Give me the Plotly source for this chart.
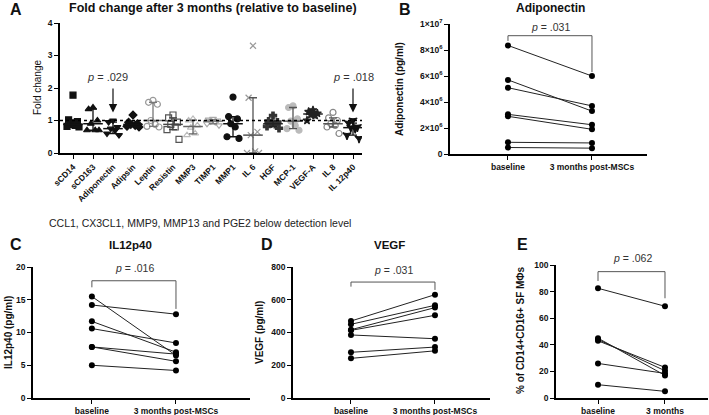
import numpy as np
import plotly.graph_objects as go

# ---------------- data ----------------
fold_categories = ["sCD14", "sCD163", "Adiponectin", "Adipsin", "Leptin", "Resistin", "MMP3",
                   "TIMP1", "MMP1", "IL 6", "HGF", "MCP-1", "VEGF-A", "IL 8", "IL 12p40"]
fold_sCD14 = [1.78, 1.02, 0.97, 0.88, 0.85, 0.82, 0.80]
fold_sCD163 = [1.40, 1.35, 1.00, 0.90, 0.70, 0.70, 0.70]
fold_adiponectin = [1.00, 0.95, 0.80, 0.75, 0.70, 0.60, 0.55]
fold_adipsin = [1.17, 0.95, 0.90, 0.88, 0.85, 0.82, 0.80]
fold_leptin = [1.62, 1.56, 1.50, 1.00, 0.88, 0.82, 0.80]
fold_resistin = [1.17, 1.08, 0.95, 0.88, 0.80, 0.72, 0.42]
fold_mmp3 = [1.05, 1.00, 0.85, 0.78, 0.60, 0.55]
fold_timp1 = [1.05, 1.03, 1.00, 0.98, 0.95, 0.90, 0.85]
fold_mmp1 = [1.72, 1.12, 1.05, 0.90, 0.80, 0.50, 0.45]
fold_il6 = [3.30, 1.70, 0.65, 0.55, 0.05, 0.00, 0.00]
fold_hgf = [1.15, 0.98, 0.95, 0.90, 0.88, 0.82, 0.76]
fold_mcp1 = [1.45, 1.40, 1.05, 0.98, 0.85, 0.75, 0.70]
fold_vegfa = [1.32, 1.27, 1.22, 1.18, 1.15, 1.00]
fold_il8 = [1.25, 1.08, 1.00, 0.90, 0.85, 0.80, 0.60]
fold_il12p40 = [1.00, 0.92, 0.80, 0.78, 0.75, 0.55, 0.45]
fold_values = [fold_sCD14, fold_sCD163, fold_adiponectin, fold_adipsin, fold_leptin, fold_resistin,
               fold_mmp3, fold_timp1, fold_mmp1, fold_il6, fold_hgf, fold_mcp1, fold_vegfa,
               fold_il8, fold_il12p40]

time_labels = ["baseline", "3 months post-MSCs"]
time_labels_e = ["baseline", "3 months"]

adipo_baseline = [8.35e6, 5.70e6, 5.10e6, 3.05e6, 2.90e6, 0.90e6, 0.50e6]
adipo_3m = [6.00e6, 3.30e6, 3.70e6, 2.25e6, 1.90e6, 0.85e6, 0.45e6]
adipo_ticks = [0, 2e6, 4e6, 6e6, 8e6, 1e7]
adipo_ticktext = ["0", "2×10<sup>6</sup>", "4×10<sup>6</sup>", "6×10<sup>6</sup>",
                  "8×10<sup>6</sup>", "1×10<sup>7</sup>"]

il12_baseline = [15.5, 14.2, 11.7, 10.6, 7.8, 7.8, 5.0]
il12_3m = [6.5, 12.8, 7.0, 8.4, 6.7, 5.6, 4.2]

vegf_baseline = [470, 450, 417, 413, 385, 279, 242]
vegf_3m = [631, 566, 552, 505, 362, 311, 288]

cd_baseline = [82.5, 45.0, 44.0, 43.0, 26.0, 10.0]
cd_3m = [69.0, 17.0, 20.5, 23.0, 18.5, 5.0]

# ---------------- styles ----------------
FONT = "Liberation Sans, Arial, sans-serif"
W, H = 709, 415
fold_symbols = ["square", "triangle-up", "triangle-down", "diamond", "circle-open", "square-open",
                "triangle-up-open", "triangle-down-open", "circle", "x-thin-open", "cross",
                "circle", "star", "circle-open", "star-triangle-down"]
fold_colors = ["#111", "#111", "#111", "#111", "#999", "#555", "#bbb", "#aaa", "#111", "#999",
               "#333", "#bbb", "#222", "#888", "#111"]
bar_colors = ["#111", "#111", "#111", "#111", "#777", "#444", "#666", "#777", "#111", "#555",
              "#222", "#555", "#222", "#555", "#111"]
jitter_pattern = [0.0, -0.22, 0.22, -0.11, 0.11, -0.3, 0.3, 0.0]


def px_x(p):
    return p / W


def px_y(p):
    return 1 - p / H


fig = go.Figure()

# ---------------- panel A ----------------
for i, (cat, vals) in enumerate(zip(fold_categories, fold_values)):
    xs = [i + jitter_pattern[k % len(jitter_pattern)] for k in range(len(vals))]
    sym = fold_symbols[i]
    fig.add_trace(go.Scatter(
        x=xs, y=vals, mode="markers", xaxis="x", yaxis="y", showlegend=False,
        marker=dict(symbol=sym, size=6, color=fold_colors[i],
                    line=dict(width=1.2, color=fold_colors[i]))))
    q1, med, q3 = np.percentile(vals, [25, 50, 75], method="weibull")
    fig.add_trace(go.Scatter(
        x=[i], y=[med], mode="markers", xaxis="x", yaxis="y", showlegend=False,
        marker=dict(symbol="line-ew-open", size=14, color=bar_colors[i],
                    line=dict(width=1.5, color=bar_colors[i])),
        error_y=dict(type="data", symmetric=False, array=[q3 - med], arrayminus=[med - q1],
                     color=bar_colors[i], thickness=1.3, width=4)))

n_cat = len(fold_categories)
axis_common = dict(showline=True, linecolor="black", linewidth=1.6, ticks="outside", ticklen=4,
                   tickwidth=1.4, tickcolor="black", showgrid=False, zeroline=False,
                   automargin=False,
                   tickfont=dict(family=FONT, size=8.5, color="#111", weight="bold"))

fig.update_layout(
    xaxis=dict(domain=[px_x(60), px_x(362)], range=[-0.65, n_cat - 0.55], tickmode="array",
               tickvals=list(range(n_cat)), ticktext=fold_categories, tickangle=-45,
               anchor="y", **axis_common),
    yaxis=dict(domain=[px_y(153), px_y(23)], range=[0, 4], tickvals=[0, 1, 2, 3, 4],
               anchor="x", **axis_common),
)
fig.add_shape(type="line", xref="x", yref="y", x0=-0.65, x1=n_cat - 0.55, y0=1, y1=1,
              line=dict(color="black", width=1.3, dash="dot"))


# ---------------- paired panels ----------------
def paired(xa, ya, base, after):
    xs, ys = [], []
    for b, a in zip(base, after):
        xs += [0, 1, None]
        ys += [b, a, None]
    fig.add_trace(go.Scatter(x=xs, y=ys, mode="lines+markers", xaxis=xa, yaxis=ya,
                             showlegend=False, line=dict(color="#222", width=1),
                             marker=dict(symbol="circle", size=6, color="black")))


paired("x2", "y2", adipo_baseline, adipo_3m)
paired("x3", "y3", il12_baseline, il12_3m)
paired("x4", "y4", vegf_baseline, vegf_3m)
paired("x5", "y5", cd_baseline, cd_3m)

small_tick = dict(axis_common)

fig.update_layout(
    xaxis2=dict(domain=[px_x(450), px_x(647)], range=[-0.69, 1.655], tickvals=[0, 1],
                ticktext=time_labels, anchor="y2", **small_tick),
    yaxis2=dict(domain=[px_y(154), px_y(24)], range=[0, 1e7], tickvals=adipo_ticks,
                ticktext=adipo_ticktext, anchor="x2", **small_tick),
    xaxis3=dict(domain=[px_x(33), px_x(250)], range=[-0.70, 1.88], tickvals=[0, 1],
                ticktext=time_labels, anchor="y3", **small_tick),
    yaxis3=dict(domain=[px_y(398), px_y(267)], range=[0, 20], tickvals=[0, 5, 10, 15, 20],
                anchor="x3", **small_tick),
    xaxis4=dict(domain=[px_x(293), px_x(490)], range=[-0.69, 1.655], tickvals=[0, 1],
                ticktext=time_labels, anchor="y4", **small_tick),
    yaxis4=dict(domain=[px_y(398), px_y(267)], range=[0, 800],
                tickvals=[0, 200, 400, 600, 800], anchor="x4", **small_tick),
    xaxis5=dict(domain=[px_x(556), px_x(708)], range=[-0.627, 1.642], tickvals=[0, 1],
                ticktext=time_labels_e, anchor="y5", **small_tick),
    yaxis5=dict(domain=[px_y(398), px_y(265)], range=[0, 100],
                tickvals=[0, 20, 40, 60, 80, 100], anchor="x5", **small_tick),
)

# brackets + p values (text placed in paper pixels to avoid range clipping)
brackets = [("x2", "y2", 8.7e6, 9.1e6, 6.3e6, "<i>p</i> = .031", (550, 27)),
            ("x3", "y3", 16.9, 17.9, 13.6, "<i>p</i> = .016", (134, 268)),
            ("x4", "y4", 680, 708, 660, "<i>p</i> = .031", (393, 270)),
            ("x5", "y5", 88, 95, 75, "<i>p</i> = .062", (632, 258))]
for xa, ya, yl, ytop, yr, txt, (tx, ty) in brackets:
    fig.add_shape(type="path", xref=xa, yref=ya,
                  path=f"M 0,{yl} L 0,{ytop} L 1,{ytop} L 1,{yr}",
                  line=dict(color="#555", width=1))
    fig.add_annotation(x=px_x(tx), y=px_y(ty), xref="paper", yref="paper", text=txt,
                       showarrow=False, font=dict(family=FONT, size=10.5, color="#333"),
                       xanchor="center", yanchor="middle")

# arrows in panel A
for idx, lab, dx in [(2, "<i>p</i> = .029", -0.3), (14, "<i>p</i> = .018", 0.0)]:
    fig.add_annotation(x=idx, y=1.25, ax=idx, ay=2.03, xref="x", yref="y", axref="x", ayref="y",
                       text="", showarrow=True, arrowhead=2, arrowsize=1.4, arrowwidth=1.2,
                       arrowcolor="#111")
    fig.add_annotation(x=idx + dx, y=2.35, xref="x", yref="y", text=lab, showarrow=False,
                       font=dict(family=FONT, size=11, color="#333"), yanchor="middle")

# panel letters and titles
texts = [
    ("A", 8, 9), ("B", 397, 9), ("C", 8, 244), ("D", 259, 244), ("E", 515, 244),
]
for t, x, y in texts:
    fig.add_annotation(x=px_x(x), y=px_y(y), xref="paper", yref="paper", text=t, showarrow=False,
                       xanchor="left", yanchor="middle",
                       font=dict(family=FONT, size=16, color="#111", weight="bold"))

titles = [
    ("Fold change after 3 months (relative to baseline)", 213, 8, 12.5),
    ("Adiponectin", 550, 8, 12),
    ("IL12p40", 130, 245, 11.5),
    ("VEGF", 389, 245, 11.5),
]
for t, x, y, s in titles:
    fig.add_annotation(x=px_x(x), y=px_y(y), xref="paper", yref="paper", text=t, showarrow=False,
                       xanchor="center", yanchor="middle",
                       font=dict(family=FONT, size=s, color="#111", weight="bold"))

fig.add_annotation(x=px_x(200), y=px_y(223), xref="paper", yref="paper",
                   text="CCL1, CX3CL1, MMP9, MMP13 and PGE2 below detection level",
                   showarrow=False, xanchor="center", yanchor="middle",
                   font=dict(family=FONT, size=10.5, color="#222"))

# axis titles (rotated)
ytitles = [
    ("Fold change", 37, 88, 10, "normal"),
    ("Adiponectin (pg/ml)", 400, 89, 10, "bold"),
    ("IL12p40 (pg/ml)", 8, 333, 10, "bold"),
    ("VEGF (pg/ml)", 259, 333, 10, "bold"),
    ("% of CD14+CD16+ SF MΦs", 520, 330, 10, "bold"),
]
for t, x, y, s, wgt in ytitles:
    fig.add_annotation(x=px_x(x), y=px_y(y), xref="paper", yref="paper", text=t, showarrow=False,
                       textangle=-90, xanchor="center", yanchor="middle",
                       font=dict(family=FONT, size=s, color="#111", weight=wgt))

fig.update_layout(width=W, height=H, autosize=False, margin=dict(l=0, r=0, t=0, b=0),
                  paper_bgcolor="white", plot_bgcolor="white", font=dict(family=FONT))

fig.write_html("out.html", config={"displayModeBar": False},
               post_script="document.body.style.margin='0';document.body.style.padding='0';")
